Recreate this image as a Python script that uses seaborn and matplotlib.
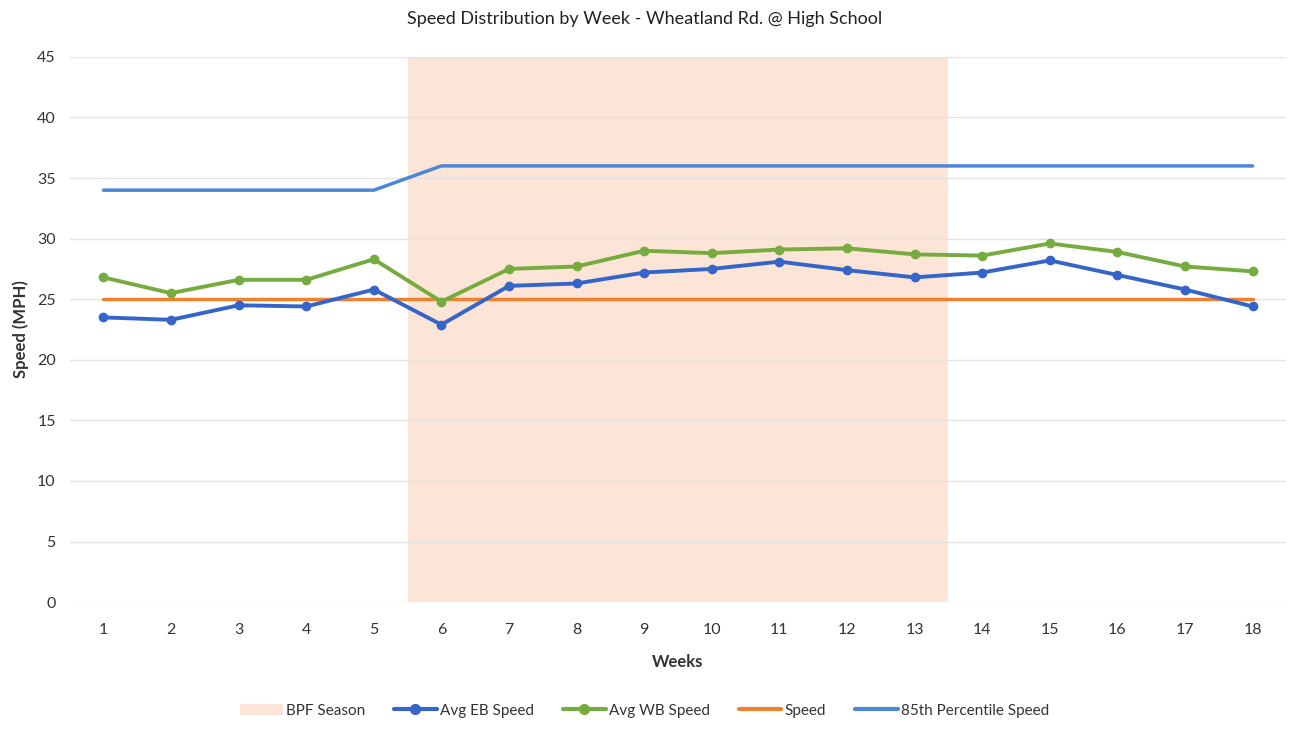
import pandas as pd
import matplotlib.pyplot as plt
import seaborn as sns
from matplotlib.patches import Patch
from matplotlib.lines import Line2D

# === DATA ===
weeks = list(range(1, 19))
avg_eb = [23.5, 23.3, 24.5, 24.4, 25.8, 22.9, 26.1, 26.3, 27.2, 27.5, 28.1, 27.4, 26.8, 27.2, 28.2, 27.0, 25.8, 24.4]
avg_wb = [26.8, 25.5, 26.6, 26.6, 28.3, 24.8, 27.5, 27.7, 29.0, 28.8, 29.1, 29.2, 28.7, 28.6, 29.6, 28.9, 27.7, 27.3]
speed_limit = [25] * 18
pct85 = [34, 34, 34, 34, 34, 36, 36, 36, 36, 36, 36, 36, 36, 36, 36, 36, 36, 36]
bpf_start, bpf_end = 6, 13

df = pd.DataFrame({'week': weeks, 'Avg EB Speed': avg_eb, 'Avg WB Speed': avg_wb,
                   'Speed': speed_limit, '85th Percentile Speed': pct85})

# === STYLE ===
C_EB = '#3565C8'
C_WB = '#76AC3F'
C_SPEED = '#F0812E'
C_85 = '#4C86D6'
C_BPF = '#FCE4D6'

sns.set_theme(style="white")
plt.rcParams['font.family'] = ['Lato', 'DejaVu Sans']

fig = plt.figure(figsize=(12.89, 7.29), dpi=100)
ax = fig.add_axes([0.054, 0.174, 0.944, 0.748])

# BPF season shading
ax.axvspan(bpf_start - 0.5, bpf_end + 0.5, ymin=0, ymax=1, color=C_BPF, zorder=0, lw=0)

sns.lineplot(data=df, x='week', y='85th Percentile Speed', ax=ax, color=C_85, lw=2.5, zorder=3)
sns.lineplot(data=df, x='week', y='Speed', ax=ax, color=C_SPEED, lw=2.5, zorder=3)
sns.lineplot(data=df, x='week', y='Avg WB Speed', ax=ax, color=C_WB, lw=2.8,
             marker='o', markersize=7, markeredgewidth=0, zorder=4)
sns.lineplot(data=df, x='week', y='Avg EB Speed', ax=ax, color=C_EB, lw=2.8,
             marker='o', markersize=7, markeredgewidth=0, zorder=5)

ax.set_xlim(0.5, 18.5)
ax.set_ylim(0, 45)
ax.set_xticks(weeks)
ax.set_yticks(range(0, 46, 5))
ax.yaxis.grid(True, color='#E4E4E4', lw=1)
ax.set_axisbelow(True)
for s in ax.spines.values():
    s.set_visible(False)
ax.tick_params(axis='both', length=0, labelsize=11.5, labelcolor='#333333', pad=10)
ax.tick_params(axis='x', pad=15)

ax.set_xlabel('Weeks', fontsize=12, fontweight='bold', color='#333333', labelpad=12)
ax.set_ylabel('Speed (MPH)', fontsize=12, fontweight='bold', color='#333333', labelpad=6)
fig.suptitle('Speed Distribution by Week - Wheatland Rd. @ High School', fontsize=13,
             color='#222222', y=0.985)

handles = [
    Patch(facecolor=C_BPF, edgecolor='none'),
    Line2D([], [], color=C_EB, lw=3, marker='o', markersize=7),
    Line2D([], [], color=C_WB, lw=3, marker='o', markersize=7),
    Line2D([], [], color=C_SPEED, lw=3),
    Line2D([], [], color=C_85, lw=3),
]
labels = ['BPF Season', 'Avg EB Speed', 'Avg WB Speed', 'Speed', '85th Percentile Speed']
fig.legend(handles, labels, loc='center', bbox_to_anchor=(0.5, 0.025), ncol=5, frameon=False,
           fontsize=11, handlelength=2.8, handletextpad=0.2, columnspacing=1.9,
           labelcolor='#333333')

plt.savefig('out.png', dpi=100)
plt.close()
